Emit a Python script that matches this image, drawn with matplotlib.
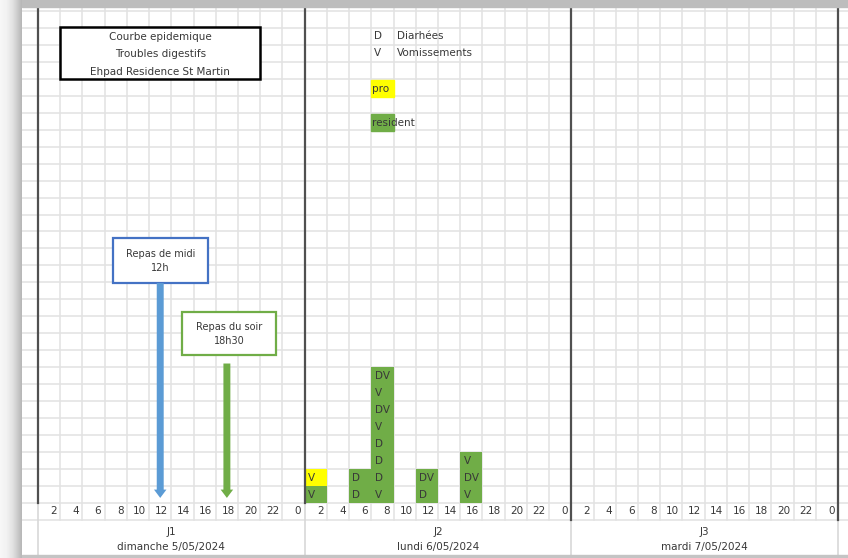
import numpy as np
import matplotlib.pyplot as plt
from matplotlib.patches import Rectangle

# Day columns and bottom labels
days = ['J1', 'J2', 'J3']
dates = ['dimanche 5/05/2024', 'lundi 6/05/2024', 'mardi 7/05/2024']
hour_labels = [2, 4, 6, 8, 10, 12, 14, 16, 18, 20, 22, 0]

# One entry per case, stacked from the bottom of its 2-hour slot
case_day = ['J2'] * 17
case_slot = [2, 2, 6, 6, 8, 8, 8, 8, 8, 8, 8, 8, 12, 12, 16, 16, 16]
case_symptom = ['V', 'V', 'D', 'D', 'V', 'D', 'D', 'D', 'V', 'DV', 'V', 'DV',
                'D', 'DV', 'V', 'DV', 'V']
case_type = ['resident', 'pro'] + ['resident'] * 15

# Meals served on J1 (slot where the arrow lands)
meal_labels = ['Repas de midi\n12h', 'Repas du soir\n18h30']
meal_slot = [12, 18]

title_lines = ['Courbe epidemique', 'Troubles digestifs', 'Ehpad Residence St Martin']
legend_codes = ['D', 'V']
legend_names = ['Diarhées', 'Vomissements']
type_colors = {'pro': '#ffff00', 'resident': '#70ad47'}

fig = plt.figure(figsize=(8.48, 5.58), dpi=100)
ax = fig.add_axes([0, 0, 1, 1])
ax.set_xlim(-3.42, 72.9)
ax.set_ylim(-3.24, 29.64)
ax.axis('off')

grid_c = '#e2e2e2'
txt_c = '#383838'
fs = 7.5

# spreadsheet grid
for r in range(-1, 30):
    ax.plot([-1.44, 72.9], [r, r], color=grid_c, lw=1.1, zorder=1)
for h in range(2, 72, 2):
    if h % 24:
        ax.plot([h, h], [-1, 29.64], color=grid_c, lw=1.1, zorder=1)
for h in [0, 24, 48, 72]:
    low = 0 if h < 48 else -1
    ax.plot([h, h], [-3.24, low], color='#d8d8d8', lw=1.2, zorder=1)
    ax.plot([h, h], [low, 29.64], color='#505050', lw=1.6, zorder=4)

# window edges
shade = np.interp(np.arange(22), [0, 6, 12, 17, 21], [0.97, 0.95, 0.89, 0.80, 0.72])
ax.imshow(np.tile(shade, (2, 1)), cmap='gray', vmin=0, vmax=1, aspect='auto',
          extent=[-3.42, -1.44, -3.24, 29.64], zorder=5)
ax.add_patch(Rectangle((-1.44, 29.23), 74.4, 0.5, color='#bdbdbd', zorder=5))
ax.add_patch(Rectangle((-1.44, -3.24), 74.4, 0.18, color='#c4c4c4', zorder=5))

# hour ticks and day labels
for d, day in enumerate(days):
    for lab in hour_labels:
        end = 24 * d + (lab if lab else 24)
        ax.text(end - 0.3, -0.47, str(lab), ha='right', va='center',
                fontsize=fs, color=txt_c)
    ax.text(24 * d + 12, -1.72, day, ha='center', va='center', fontsize=fs, color=txt_c)
    ax.text(24 * d + 12, -2.62, dates[d], ha='center', va='center', fontsize=fs, color=txt_c)

# cases
level = {}
for day, slot, sym, kind in zip(case_day, case_slot, case_symptom, case_type):
    x0 = 24 * days.index(day) + slot - 2
    y0 = level.get((day, slot), 0)
    level[(day, slot)] = y0 + 1
    ax.bar(x0, 1, width=2, bottom=y0, align='edge', color=type_colors[kind],
           edgecolor='none', zorder=3)
    ax.text(x0 + 0.3, y0 + 0.5, sym, ha='left', va='center', fontsize=fs,
            color=txt_c, zorder=4)

# title box
ax.add_patch(Rectangle((2, 25.0), 18, 3.05, facecolor='white', edgecolor='black',
                       lw=1.8, zorder=4))
for i, line in enumerate(title_lines):
    ax.text(11, 27.45 - i * 1.02, line, ha='center', va='center', fontsize=fs,
            color=txt_c, zorder=5)

# legend
for i, (code, name) in enumerate(zip(legend_codes, legend_names)):
    ax.text(30.25, 27.5 - i, code, ha='left', va='center', fontsize=fs, color=txt_c)
    ax.text(32.3, 27.5 - i, name, ha='left', va='center', fontsize=fs, color=txt_c)
for row, kind in [(24, 'pro'), (22, 'resident')]:
    ax.add_patch(Rectangle((30, row - 0.08), 2, 1, color=type_colors[kind], zorder=3))
    ax.text(30.1, row + 0.42, kind, ha='left', va='center', fontsize=fs,
            color=txt_c, zorder=4)

# meal boxes and arrows
meal_boxes = [(6.75, 12.96, 8.55, 2.64, '#4472c4', '#5b9bd5'),
              (12.96, 8.72, 8.44, 2.53, '#70ad47', '#70ad47')]
for label, slot, (bx, by, bw, bh, edge, arrow_c) in zip(meal_labels, meal_slot, meal_boxes):
    ax.add_patch(Rectangle((bx, by), bw, bh, facecolor='white', edgecolor=edge,
                           lw=1.6, zorder=4))
    ax.text(bx + bw / 2, by + bh / 2, label, ha='center', va='center',
            fontsize=7, color=txt_c, linespacing=1.5, zorder=5)
    top = by if slot == 12 else by - 0.5
    ax.annotate('', xy=(slot - 1, 0.3), xytext=(slot - 1, top),
                arrowprops=dict(facecolor=arrow_c, edgecolor='none', width=5,
                                headwidth=9, headlength=6, shrink=0), zorder=4)

fig.savefig('out.png', dpi=100)
